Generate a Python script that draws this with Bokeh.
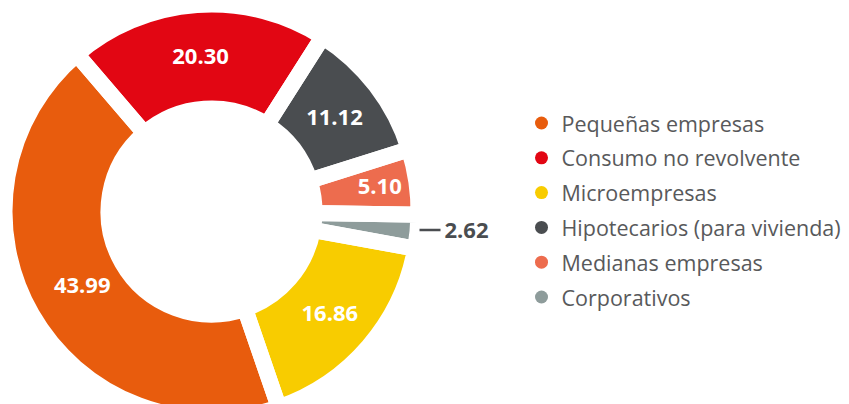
import numpy as np
from bokeh.plotting import figure
from bokeh.models import Range1d, ColumnDataSource
from bokeh.core.properties import value
from bokeh.embed import file_html
from bokeh.resources import INLINE

# Data (drawing order: clockwise from upper-left)
categories = ["Consumo no revolvente", "Hipotecarios (para vivienda)", "Medianas empresas",
              "Corporativos", "Microempresas", "Pequeñas empresas"]
values = [20.30, 11.12, 5.10, 2.62, 16.86, 43.99]
colors = ["#E20613", "#4A4D50", "#ED6C4E", "#8E9C9B", "#F8CC00", "#E85C0D"]
label_text = ["20.30", "11.12", "5.10", "2.62", "16.86", "43.99"]

# Legend order
legend_items = ["Pequeñas empresas", "Consumo no revolvente", "Microempresas",
                "Hipotecarios (para vivienda)", "Medianas empresas", "Corporativos"]
legend_colors = ["#E85C0D", "#E20613", "#F8CC00", "#4A4D50", "#ED6C4E", "#8E9C9B"]

W, H = 849, 404
# data coords: x = screen x, y = 404 - screen y
p = figure(width=W, height=H, output_backend="svg", toolbar_location=None,
           x_range=Range1d(0, W), y_range=Range1d(404 - H, 404),
           min_border=0)
p.axis.visible = False
p.grid.visible = False
p.outline_line_color = None
p.background_fill_color = "white"

cx, cy = 211, 404 - 211
gap = 16
r_in, r_out = 111, 199
start_deg = 130.6

vals = np.array(values)
frac = vals / vals.sum()
ends = start_deg - np.cumsum(frac) * 360
starts = np.concatenate([[start_deg], ends[:-1]])
s_rad = np.deg2rad(starts)
e_rad = np.deg2rad(ends)

src = ColumnDataSource(dict(x=[cx] * len(vals), y=[cy] * len(vals),
                            start=e_rad, end=s_rad, color=colors))
p.annular_wedge(x="x", y="y", inner_radius=r_in - gap / 2, outer_radius=r_out + gap / 2,
                start_angle="start", end_angle="end", fill_color="color",
                line_color=None, source=src)
p.annular_wedge(x="x", y="y", inner_radius=r_in - gap / 2, outer_radius=r_out + gap / 2,
                start_angle="start", end_angle="end", fill_color=None,
                line_color="white", line_width=gap, line_join="miter", source=src)

# labels
mid = (s_rad + e_rad) / 2
r_lab = [155, 155, 170, 0, 156, 149]
lx, ly, lt = [], [], []
for i in range(len(vals)):
    if label_text[i] == "2.62":
        continue
    lx.append(cx + r_lab[i] * np.cos(mid[i]))
    ly.append(cy + r_lab[i] * np.sin(mid[i]))
    lt.append(label_text[i])
p.text(x=lx, y=ly, text=lt, text_color="white", text_font=value("Open Sans"),
       text_font_style="bold", text_font_size="22px", text_align="center",
       text_baseline="middle")

# outside label for small slice
i_small = label_text.index("2.62")
ang = mid[i_small]
edge_x = cx + (r_out + 10) * np.cos(ang)
edge_y = cy + (r_out + 10) * np.sin(ang) + 2
p.segment(x0=[edge_x], y0=[edge_y], x1=[edge_x + 21], y1=[edge_y],
          line_color="#4A4D50", line_width=2.5)
p.text(x=[edge_x + 25], y=[edge_y - 1], text=[label_text[i_small]], text_color="#4A4D50",
       text_font=value("Open Sans"), text_font_style="bold", text_font_size="22px",
       text_align="left", text_baseline="middle")

# legend
lg_x = 541
lg_y0 = 404 - 122.5
lg_dy = 34.8
ys = [lg_y0 - i * lg_dy for i in range(len(legend_items))]
p.scatter(x=[lg_x] * len(ys), y=ys, size=13, marker="circle", color=legend_colors,
          line_color=None)
p.text(x=[lg_x + 20] * len(ys), y=ys, text=legend_items, text_color="#58595B",
       text_font=value("Open Sans"), text_font_size="21.5px", text_align="left",
       text_baseline="middle")

open("out.html", "w").write(file_html(p, INLINE))
